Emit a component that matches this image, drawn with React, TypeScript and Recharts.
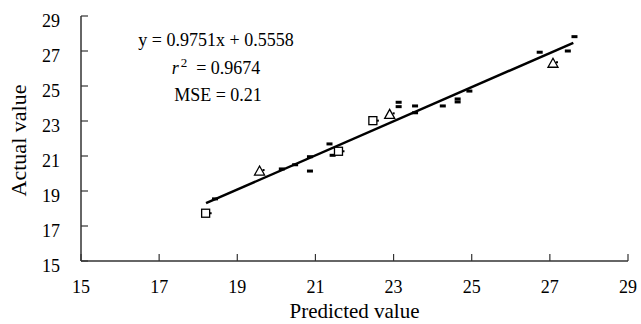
import React from "react";
import {
  ScatterChart,
  Scatter,
  XAxis,
  YAxis,
  ReferenceLine,
} from "recharts";

// open squares
const squarePredicted = [18.19, 21.59, 22.47];
const squareActual = [17.73, 21.27, 23.02];

// open triangles
const trianglePredicted = [19.57, 22.9, 27.08];
const triangleActual = [20.14, 23.38, 26.3];

// small dashes
const dashPredicted = [
  18.43, 20.14, 20.48, 20.86, 20.86, 21.36, 21.44, 23.13, 23.13, 23.55, 23.55,
  24.26, 24.64, 24.64, 24.94, 26.74, 27.46, 27.63,
];
const dashActual = [
  18.55, 20.26, 20.5, 20.14, 20.96, 21.69, 21.04, 24.07, 23.82, 23.86, 23.47,
  23.86, 24.26, 24.09, 24.71, 26.93, 27.0, 27.82,
];

const axisTicks = [15, 17, 19, 21, 23, 25, 27, 29];

// fitted line y = 0.9751x + 0.5558
const slope = 0.9751;
const intercept = 0.5558;
const fitRange = [18.2, 27.6];

const FONT = "'Liberation Serif', 'Times New Roman', serif";
const AXIS = "#333";

const toPoints = (xs: number[], ys: number[]) =>
  xs.map((x, i) => ({ x, y: ys[i] }));

const squares = toPoints(squarePredicted, squareActual);
const triangles = toPoints(trianglePredicted, triangleActual);
const dashes = toPoints(dashPredicted, dashActual);

const SquareShape = (props: any) => {
  const { cx, cy } = props;
  return (
    <g>
      <rect x={cx - 4} y={cy - 4} width={8} height={8} fill="#fff" stroke="#000" strokeWidth={1.3} />
      <rect x={cx + 4} y={cy - 1} width={2} height={2} fill="#000" />
    </g>
  );
};

const TriangleShape = (props: any) => {
  const { cx, cy } = props;
  return (
    <g>
      <path
        d={`M${cx},${cy - 5} L${cx + 5},${cy + 4} L${cx - 5},${cy + 4} Z`}
        fill="#fff"
        stroke="#000"
        strokeWidth={1.3}
      />
      <rect x={cx + 3} y={cy - 2} width={2} height={2} fill="#000" />
    </g>
  );
};

const DashShape = (props: any) => {
  const { cx, cy } = props;
  return <rect x={cx - 3} y={cy - 1.5} width={6} height={3} fill="#000" />;
};

const XTick = (props: any) => (
  <text x={props.x} y={props.y} dy={12} textAnchor="middle" fontSize={18} fontFamily={FONT} fill="#000">
    {props.payload.value}
  </text>
);

const YTick = (props: any) => (
  <text x={props.x} y={props.y} dy={11} textAnchor="end" fontSize={18} fontFamily={FONT} fill="#000">
    {props.payload.value}
  </text>
);

export default function App() {
  return (
    <div style={{ position: "relative", width: 641, height: 324, fontFamily: FONT }}>
      <style>{`body{margin:0}`}</style>
      <ScatterChart width={641} height={324} margin={{ top: 16, right: 13, bottom: 0, left: 0 }}>
        <XAxis
          type="number"
          dataKey="x"
          domain={[15, 29]}
          ticks={axisTicks}
          height={63}
          tickSize={-7}
          tickMargin={27}
          tick={XTick}
          axisLine={{ stroke: AXIS, strokeWidth: 1.5 }}
          tickLine={{ stroke: AXIS, strokeWidth: 1.2 }}
          label={{
            content: (p: any) => (
              <text
                x={p.viewBox.x + p.viewBox.width / 2}
                y={318}
                textAnchor="middle"
                fontSize={21}
                fontFamily={FONT}
                fill="#000"
              >
                Predicted value
              </text>
            ),
          }}
        />
        <YAxis
          type="number"
          dataKey="y"
          domain={[15, 29]}
          ticks={axisTicks}
          width={81}
          tickSize={-7}
          tickMargin={28}
          tick={YTick}
          axisLine={{ stroke: AXIS, strokeWidth: 1.5 }}
          tickLine={{ stroke: AXIS, strokeWidth: 1.2 }}
          label={{
            content: (p: any) => {
              const cy = p.viewBox.y + p.viewBox.height / 2 + 2;
              return (
                <text
                  x={26}
                  y={cy}
                  transform={`rotate(-90, 26, ${cy})`}
                  textAnchor="middle"
                  fontSize={22}
                  fontFamily={FONT}
                  fill="#000"
                >
                  Actual value
                </text>
              );
            },
          }}
        />
        <ReferenceLine
          segment={[
            { x: fitRange[0], y: slope * fitRange[0] + intercept },
            { x: fitRange[1], y: slope * fitRange[1] + intercept },
          ]}
          stroke="#000"
          strokeWidth={2.5}
        />
        <Scatter data={dashes} shape={DashShape} isAnimationActive={false} />
        <Scatter data={squares} shape={SquareShape} isAnimationActive={false} />
        <Scatter data={triangles} shape={TriangleShape} isAnimationActive={false} />
      </ScatterChart>
      <div
        style={{
          position: "absolute",
          left: 115,
          width: 202,
          top: 27,
          textAlign: "center",
          fontSize: 18,
          lineHeight: "27px",
          color: "#000",
        }}
      >
        <div>y = 0.9751x + 0.5558</div>
        <div style={{ marginTop: 1 }}>
          <i>r</i>
          <span style={{ fontSize: 13, position: "relative", top: -7, marginLeft: 2 }}>2</span>
          {"\u00a0 = 0.9674"}
        </div>
        <div style={{ marginTop: -1, paddingLeft: 4 }}>MSE = 0.21</div>
      </div>
    </div>
  );
}
